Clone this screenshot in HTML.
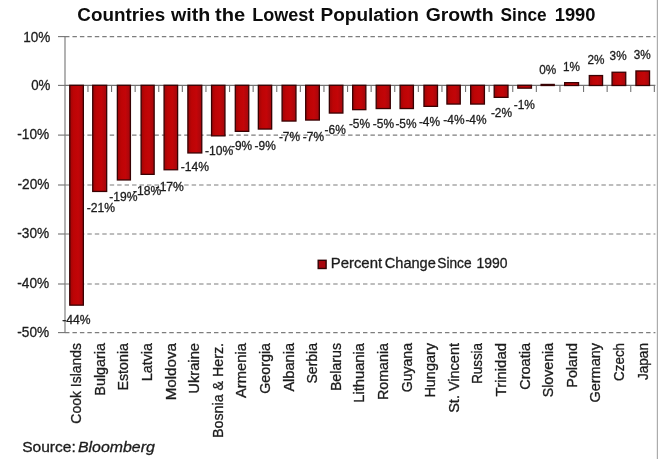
<!DOCTYPE html>
<html lang="en"><head><meta charset="utf-8"><title>Countries with the Lowest Population Growth Since 1990</title>
<style>html,body{margin:0;padding:0;background:#fff}svg{display:block}text{font-family:"Liberation Sans",Arial,sans-serif;fill:#1c1c1c;stroke:#1c1c1c;stroke-width:0.3px}</style></head><body>
<svg width="660" height="459" viewBox="0 0 660 459">
<defs><linearGradient id="g" x1="0" y1="0" x2="1" y2="0"><stop offset="0" stop-color="#9c0508"/><stop offset="0.28" stop-color="#bd0405"/><stop offset="0.62" stop-color="#c30508"/><stop offset="1" stop-color="#a2080d"/></linearGradient></defs>
<rect width="660" height="459" fill="#fff"/>
<rect x="656.8" y="0" width="1.2" height="459" fill="#acacac"/>
<line x1="65.00" y1="36.60" x2="655.40" y2="36.60" stroke="#7d7d7d" stroke-width="1.15" stroke-dasharray="4.45 3" stroke-dashoffset="0"/>
<line x1="65.00" y1="135.10" x2="655.40" y2="135.10" stroke="#7d7d7d" stroke-width="1.15" stroke-dasharray="4.45 3" stroke-dashoffset="0"/>
<line x1="65.00" y1="185.00" x2="655.40" y2="185.00" stroke="#7d7d7d" stroke-width="1.15" stroke-dasharray="4.45 3" stroke-dashoffset="0"/>
<line x1="65.00" y1="234.00" x2="655.40" y2="234.00" stroke="#7d7d7d" stroke-width="1.15" stroke-dasharray="4.45 3" stroke-dashoffset="0"/>
<line x1="65.00" y1="284.00" x2="655.40" y2="284.00" stroke="#7d7d7d" stroke-width="1.15" stroke-dasharray="4.45 3" stroke-dashoffset="0"/>
<line x1="65.00" y1="332.60" x2="655.40" y2="332.60" stroke="#7d7d7d" stroke-width="1.15" stroke-dasharray="4.45 3" stroke-dashoffset="0"/>
<line x1="65.00" y1="36.10" x2="65.00" y2="333.10" stroke="#7a7a7a" stroke-width="1.15"/>
<line x1="65.00" y1="85.40" x2="655.40" y2="85.40" stroke="#737373" stroke-width="1.1"/>
<line x1="58.00" y1="36.60" x2="65.00" y2="36.60" stroke="#737373" stroke-width="1.1"/>
<line x1="58.00" y1="85.40" x2="65.00" y2="85.40" stroke="#737373" stroke-width="1.1"/>
<line x1="58.00" y1="135.10" x2="65.00" y2="135.10" stroke="#737373" stroke-width="1.1"/>
<line x1="58.00" y1="185.00" x2="65.00" y2="185.00" stroke="#737373" stroke-width="1.1"/>
<line x1="58.00" y1="234.00" x2="65.00" y2="234.00" stroke="#737373" stroke-width="1.1"/>
<line x1="58.00" y1="284.00" x2="65.00" y2="284.00" stroke="#737373" stroke-width="1.1"/>
<line x1="58.00" y1="332.60" x2="65.00" y2="332.60" stroke="#737373" stroke-width="1.1"/>
<line x1="87.95" y1="85.40" x2="87.95" y2="92.00" stroke="#737373" stroke-width="1.1"/>
<line x1="111.55" y1="85.40" x2="111.55" y2="92.00" stroke="#737373" stroke-width="1.1"/>
<line x1="135.15" y1="85.40" x2="135.15" y2="92.00" stroke="#737373" stroke-width="1.1"/>
<line x1="158.75" y1="85.40" x2="158.75" y2="92.00" stroke="#737373" stroke-width="1.1"/>
<line x1="182.35" y1="85.40" x2="182.35" y2="92.00" stroke="#737373" stroke-width="1.1"/>
<line x1="205.95" y1="85.40" x2="205.95" y2="92.00" stroke="#737373" stroke-width="1.1"/>
<line x1="229.55" y1="85.40" x2="229.55" y2="92.00" stroke="#737373" stroke-width="1.1"/>
<line x1="253.15" y1="85.40" x2="253.15" y2="92.00" stroke="#737373" stroke-width="1.1"/>
<line x1="276.75" y1="85.40" x2="276.75" y2="92.00" stroke="#737373" stroke-width="1.1"/>
<line x1="300.35" y1="85.40" x2="300.35" y2="92.00" stroke="#737373" stroke-width="1.1"/>
<line x1="323.95" y1="85.40" x2="323.95" y2="92.00" stroke="#737373" stroke-width="1.1"/>
<line x1="347.55" y1="85.40" x2="347.55" y2="92.00" stroke="#737373" stroke-width="1.1"/>
<line x1="371.15" y1="85.40" x2="371.15" y2="92.00" stroke="#737373" stroke-width="1.1"/>
<line x1="394.75" y1="85.40" x2="394.75" y2="92.00" stroke="#737373" stroke-width="1.1"/>
<line x1="418.35" y1="85.40" x2="418.35" y2="92.00" stroke="#737373" stroke-width="1.1"/>
<line x1="441.95" y1="85.40" x2="441.95" y2="92.00" stroke="#737373" stroke-width="1.1"/>
<line x1="465.55" y1="85.40" x2="465.55" y2="92.00" stroke="#737373" stroke-width="1.1"/>
<line x1="489.15" y1="85.40" x2="489.15" y2="92.00" stroke="#737373" stroke-width="1.1"/>
<line x1="512.75" y1="85.40" x2="512.75" y2="92.00" stroke="#737373" stroke-width="1.1"/>
<line x1="536.35" y1="85.40" x2="536.35" y2="92.00" stroke="#737373" stroke-width="1.1"/>
<line x1="559.95" y1="85.40" x2="559.95" y2="92.00" stroke="#737373" stroke-width="1.1"/>
<line x1="583.55" y1="85.40" x2="583.55" y2="92.00" stroke="#737373" stroke-width="1.1"/>
<line x1="607.15" y1="85.40" x2="607.15" y2="92.00" stroke="#737373" stroke-width="1.1"/>
<line x1="630.75" y1="85.40" x2="630.75" y2="92.00" stroke="#737373" stroke-width="1.1"/>
<line x1="654.35" y1="85.40" x2="654.35" y2="92.00" stroke="#737373" stroke-width="1.1"/>
<rect x="69.75" y="85.30" width="13.60" height="219.85" fill="url(#g)" stroke="#380203" stroke-width="1.3"/>
<rect x="92.72" y="85.30" width="13.95" height="106.15" fill="url(#g)" stroke="#380203" stroke-width="1.3"/>
<rect x="117.37" y="85.30" width="13.04" height="94.65" fill="url(#g)" stroke="#380203" stroke-width="1.3"/>
<rect x="141.11" y="85.30" width="13.04" height="89.05" fill="url(#g)" stroke="#380203" stroke-width="1.3"/>
<rect x="164.08" y="85.30" width="13.53" height="84.45" fill="url(#g)" stroke="#380203" stroke-width="1.3"/>
<rect x="187.89" y="85.30" width="13.88" height="67.65" fill="url(#g)" stroke="#380203" stroke-width="1.3"/>
<rect x="211.56" y="85.30" width="13.39" height="50.55" fill="url(#g)" stroke="#380203" stroke-width="1.3"/>
<rect x="235.30" y="85.30" width="13.46" height="46.05" fill="url(#g)" stroke="#380203" stroke-width="1.3"/>
<rect x="258.34" y="85.30" width="13.32" height="43.75" fill="url(#g)" stroke="#380203" stroke-width="1.3"/>
<rect x="282.08" y="85.30" width="13.88" height="35.75" fill="url(#g)" stroke="#380203" stroke-width="1.3"/>
<rect x="305.68" y="85.30" width="13.67" height="34.75" fill="url(#g)" stroke="#380203" stroke-width="1.3"/>
<rect x="329.35" y="85.30" width="13.53" height="27.75" fill="url(#g)" stroke="#380203" stroke-width="1.3"/>
<rect x="352.67" y="85.30" width="13.18" height="24.35" fill="url(#g)" stroke="#380203" stroke-width="1.3"/>
<rect x="376.20" y="85.30" width="14.09" height="23.25" fill="url(#g)" stroke="#380203" stroke-width="1.3"/>
<rect x="400.08" y="85.30" width="13.32" height="23.25" fill="url(#g)" stroke="#380203" stroke-width="1.3"/>
<rect x="423.96" y="85.30" width="13.53" height="21.05" fill="url(#g)" stroke="#380203" stroke-width="1.3"/>
<rect x="446.93" y="85.30" width="13.32" height="18.75" fill="url(#g)" stroke="#380203" stroke-width="1.3"/>
<rect x="470.67" y="85.30" width="13.74" height="18.75" fill="url(#g)" stroke="#380203" stroke-width="1.3"/>
<rect x="494.20" y="85.30" width="13.81" height="12.05" fill="url(#g)" stroke="#380203" stroke-width="1.3"/>
<rect x="517.80" y="85.30" width="13.67" height="2.85" fill="url(#g)" stroke="#380203" stroke-width="1.3"/>
<rect x="541.12" y="84.45" width="13.11" height="1.05" fill="url(#g)" stroke="#380203" stroke-width="1.3"/>
<rect x="564.65" y="82.65" width="13.88" height="2.85" fill="url(#g)" stroke="#380203" stroke-width="1.3"/>
<rect x="589.30" y="75.55" width="13.25" height="9.95" fill="url(#g)" stroke="#380203" stroke-width="1.3"/>
<rect x="612.06" y="72.25" width="13.67" height="13.25" fill="url(#g)" stroke="#380203" stroke-width="1.3"/>
<rect x="635.94" y="70.95" width="13.60" height="14.55" fill="url(#g)" stroke="#380203" stroke-width="1.3"/>
<text x="50.40" y="41.50" font-size="14.1" text-anchor="end" textLength="27.1" lengthAdjust="spacingAndGlyphs">10%</text>
<text x="50.40" y="89.50" font-size="14.1" text-anchor="end" textLength="19.2" lengthAdjust="spacingAndGlyphs">0%</text>
<text x="49.20" y="139.10" font-size="14.1" text-anchor="end" textLength="31.9" lengthAdjust="spacingAndGlyphs">-10%</text>
<text x="49.40" y="188.70" font-size="14.1" text-anchor="end" textLength="31.9" lengthAdjust="spacingAndGlyphs">-20%</text>
<text x="49.20" y="237.80" font-size="14.1" text-anchor="end" textLength="31.9" lengthAdjust="spacingAndGlyphs">-30%</text>
<text x="49.20" y="287.80" font-size="14.1" text-anchor="end" textLength="31.9" lengthAdjust="spacingAndGlyphs">-40%</text>
<text x="49.20" y="336.60" font-size="14.1" text-anchor="end" textLength="31.9" lengthAdjust="spacingAndGlyphs">-50%</text>
<text x="90.50" y="323.80" font-size="12.3" text-anchor="end" textLength="28.3" lengthAdjust="spacingAndGlyphs">-44%</text>
<text x="115.10" y="211.60" font-size="12.3" text-anchor="end" textLength="28.3" lengthAdjust="spacingAndGlyphs">-21%</text>
<text x="137.50" y="201.00" font-size="12.3" text-anchor="end" textLength="28.3" lengthAdjust="spacingAndGlyphs">-19%</text>
<text x="161.20" y="195.00" font-size="12.3" text-anchor="end" textLength="28.3" lengthAdjust="spacingAndGlyphs">-18%</text>
<text x="183.90" y="190.80" font-size="12.3" text-anchor="end" textLength="28.3" lengthAdjust="spacingAndGlyphs">-17%</text>
<text x="209.10" y="171.20" font-size="12.3" text-anchor="end" textLength="28.3" lengthAdjust="spacingAndGlyphs">-14%</text>
<text x="233.20" y="154.50" font-size="12.3" text-anchor="end" textLength="28.3" lengthAdjust="spacingAndGlyphs">-10%</text>
<text x="252.20" y="150.00" font-size="12.3" text-anchor="end" textLength="21.2" lengthAdjust="spacingAndGlyphs">-9%</text>
<text x="275.80" y="149.50" font-size="12.3" text-anchor="end" textLength="21.2" lengthAdjust="spacingAndGlyphs">-9%</text>
<text x="300.10" y="140.60" font-size="12.3" text-anchor="end" textLength="21.2" lengthAdjust="spacingAndGlyphs">-7%</text>
<text x="324.00" y="140.60" font-size="12.3" text-anchor="end" textLength="21.2" lengthAdjust="spacingAndGlyphs">-7%</text>
<text x="345.80" y="133.60" font-size="12.3" text-anchor="end" textLength="21.2" lengthAdjust="spacingAndGlyphs">-6%</text>
<text x="370.10" y="128.30" font-size="12.3" text-anchor="end" textLength="21.2" lengthAdjust="spacingAndGlyphs">-5%</text>
<text x="394.00" y="128.30" font-size="12.3" text-anchor="end" textLength="21.2" lengthAdjust="spacingAndGlyphs">-5%</text>
<text x="416.60" y="127.70" font-size="12.3" text-anchor="end" textLength="21.2" lengthAdjust="spacingAndGlyphs">-5%</text>
<text x="440.10" y="126.00" font-size="12.3" text-anchor="end" textLength="21.2" lengthAdjust="spacingAndGlyphs">-4%</text>
<text x="464.50" y="124.10" font-size="12.3" text-anchor="end" textLength="21.2" lengthAdjust="spacingAndGlyphs">-4%</text>
<text x="486.60" y="123.80" font-size="12.3" text-anchor="end" textLength="21.2" lengthAdjust="spacingAndGlyphs">-4%</text>
<text x="512.10" y="117.20" font-size="12.3" text-anchor="end" textLength="21.2" lengthAdjust="spacingAndGlyphs">-2%</text>
<text x="534.90" y="109.20" font-size="12.3" text-anchor="end" textLength="21.2" lengthAdjust="spacingAndGlyphs">-1%</text>
<text x="556.30" y="74.00" font-size="12.3" text-anchor="end" textLength="17.0" lengthAdjust="spacingAndGlyphs">0%</text>
<text x="579.90" y="70.90" font-size="12.3" text-anchor="end" textLength="17.0" lengthAdjust="spacingAndGlyphs">1%</text>
<text x="604.50" y="64.00" font-size="12.3" text-anchor="end" textLength="17.0" lengthAdjust="spacingAndGlyphs">2%</text>
<text x="626.60" y="60.30" font-size="12.3" text-anchor="end" textLength="17.0" lengthAdjust="spacingAndGlyphs">3%</text>
<text x="650.80" y="59.40" font-size="12.3" text-anchor="end" textLength="17.0" lengthAdjust="spacingAndGlyphs">3%</text>
<text transform="translate(81.15,343.00) rotate(-90)" font-size="13.9" text-anchor="end" textLength="80.7" lengthAdjust="spacingAndGlyphs">Cook Islands</text>
<text transform="translate(104.75,343.00) rotate(-90)" font-size="13.9" text-anchor="end" textLength="52.7" lengthAdjust="spacingAndGlyphs">Bulgaria</text>
<text transform="translate(128.35,343.00) rotate(-90)" font-size="13.9" text-anchor="end" textLength="47.5" lengthAdjust="spacingAndGlyphs">Estonia</text>
<text transform="translate(151.95,343.00) rotate(-90)" font-size="13.9" text-anchor="end" textLength="38.2" lengthAdjust="spacingAndGlyphs">Latvia</text>
<text transform="translate(175.55,343.00) rotate(-90)" font-size="13.9" text-anchor="end" textLength="57.3" lengthAdjust="spacingAndGlyphs">Moldova</text>
<text transform="translate(199.15,343.00) rotate(-90)" font-size="13.9" text-anchor="end" textLength="50.7" lengthAdjust="spacingAndGlyphs">Ukraine</text>
<text transform="translate(222.75,343.00) rotate(-90)" font-size="13.9" text-anchor="end" textLength="94.9" lengthAdjust="spacingAndGlyphs">Bosnia &amp; Herz.</text>
<text transform="translate(246.35,343.00) rotate(-90)" font-size="13.9" text-anchor="end" textLength="55.1" lengthAdjust="spacingAndGlyphs">Armenia</text>
<text transform="translate(269.95,343.00) rotate(-90)" font-size="13.9" text-anchor="end" textLength="50.8" lengthAdjust="spacingAndGlyphs">Georgia</text>
<text transform="translate(293.55,343.00) rotate(-90)" font-size="13.9" text-anchor="end" textLength="48.6" lengthAdjust="spacingAndGlyphs">Albania</text>
<text transform="translate(317.15,343.00) rotate(-90)" font-size="13.9" text-anchor="end" textLength="40.5" lengthAdjust="spacingAndGlyphs">Serbia</text>
<text transform="translate(340.75,343.00) rotate(-90)" font-size="13.9" text-anchor="end" textLength="48.1" lengthAdjust="spacingAndGlyphs">Belarus</text>
<text transform="translate(364.35,343.00) rotate(-90)" font-size="13.9" text-anchor="end" textLength="59.8" lengthAdjust="spacingAndGlyphs">Lithuania</text>
<text transform="translate(387.95,343.00) rotate(-90)" font-size="13.9" text-anchor="end" textLength="57.1" lengthAdjust="spacingAndGlyphs">Romania</text>
<text transform="translate(411.55,343.00) rotate(-90)" font-size="13.9" text-anchor="end" textLength="49.3" lengthAdjust="spacingAndGlyphs">Guyana</text>
<text transform="translate(435.15,343.00) rotate(-90)" font-size="13.9" text-anchor="end" textLength="54.6" lengthAdjust="spacingAndGlyphs">Hungary</text>
<text transform="translate(458.75,343.00) rotate(-90)" font-size="13.9" text-anchor="end" textLength="69.8" lengthAdjust="spacingAndGlyphs">St. Vincent</text>
<text transform="translate(482.35,343.00) rotate(-90)" font-size="13.9" text-anchor="end" textLength="40.8" lengthAdjust="spacingAndGlyphs">Russia</text>
<text transform="translate(505.95,343.00) rotate(-90)" font-size="13.9" text-anchor="end" textLength="53.4" lengthAdjust="spacingAndGlyphs">Trinidad</text>
<text transform="translate(529.55,343.00) rotate(-90)" font-size="13.9" text-anchor="end" textLength="46.8" lengthAdjust="spacingAndGlyphs">Croatia</text>
<text transform="translate(553.15,343.00) rotate(-90)" font-size="13.9" text-anchor="end" textLength="54.2" lengthAdjust="spacingAndGlyphs">Slovenia</text>
<text transform="translate(576.75,343.00) rotate(-90)" font-size="13.9" text-anchor="end" textLength="44.7" lengthAdjust="spacingAndGlyphs">Poland</text>
<text transform="translate(600.35,343.00) rotate(-90)" font-size="13.9" text-anchor="end" textLength="59.5" lengthAdjust="spacingAndGlyphs">Germany</text>
<text transform="translate(623.95,343.00) rotate(-90)" font-size="13.9" text-anchor="end" textLength="37.9" lengthAdjust="spacingAndGlyphs">Czech</text>
<text transform="translate(647.55,343.00) rotate(-90)" font-size="13.9" text-anchor="end" textLength="37.1" lengthAdjust="spacingAndGlyphs">Japan</text>
<text y="21.3" font-size="17.6" font-weight="bold" style="fill:#0c0c0c;stroke:none"><tspan x="77.30" textLength="87.90" lengthAdjust="spacingAndGlyphs">Countries</tspan> <tspan x="171.00" textLength="39.30" lengthAdjust="spacingAndGlyphs">with</tspan> <tspan x="215.10" textLength="30.20" lengthAdjust="spacingAndGlyphs">the</tspan> <tspan x="252.20" textLength="62.10" lengthAdjust="spacingAndGlyphs">Lowest</tspan> <tspan x="320.50" textLength="98.30" lengthAdjust="spacingAndGlyphs">Population</tspan> <tspan x="425.70" textLength="68.00" lengthAdjust="spacingAndGlyphs">Growth</tspan> <tspan x="500.60" textLength="46.10" lengthAdjust="spacingAndGlyphs">Since</tspan> <tspan x="554.70" textLength="40.80" lengthAdjust="spacingAndGlyphs">1990</tspan></text>
<rect x="318.2" y="260.3" width="7.9" height="8.2" fill="#a8060e" stroke="#300406" stroke-width="1.4"/>
<text y="268.3" font-size="14"><tspan x="330.70" textLength="51.40" lengthAdjust="spacingAndGlyphs">Percent</tspan> <tspan x="384.80" textLength="51.00" lengthAdjust="spacingAndGlyphs">Change</tspan> <tspan x="437.30" textLength="34.30" lengthAdjust="spacingAndGlyphs">Since</tspan> <tspan x="476.50" textLength="31.00" lengthAdjust="spacingAndGlyphs">1990</tspan></text>
<text y="452.2" font-size="15.2"><tspan x="22.20" textLength="53.60" lengthAdjust="spacingAndGlyphs">Source:</tspan> <tspan x="78.00" font-style="italic" textLength="76.80" lengthAdjust="spacingAndGlyphs">Bloomberg</tspan></text>
</svg></body></html>
